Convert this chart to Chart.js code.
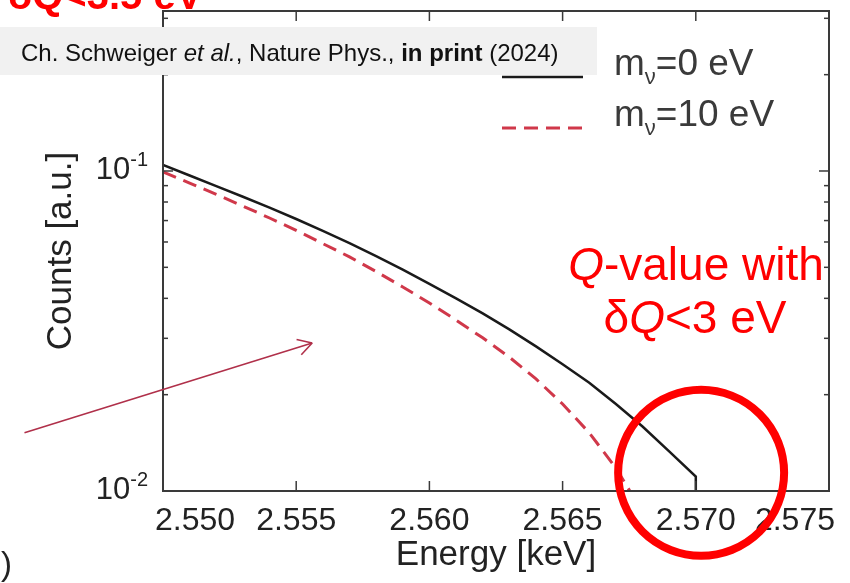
<!DOCTYPE html>
<html>
<head>
<meta charset="utf-8">
<script src="https://cdn.jsdelivr.net/npm/chart.js@4.4.1/dist/chart.umd.min.js"></script>
<style>
  html, body { margin: 0; padding: 0; background: #fff; }
  #wrap { width: 850px; height: 583px; }
</style>
</head>
<body>
<div id="wrap"><canvas id="spectrumChart" width="850" height="583"></canvas></div>
<script>
// values (energy in keV, counts in a.u.)
const energiesM0 = [2.550, 2.551, 2.552, 2.553, 2.554, 2.555, 2.556, 2.557, 2.558, 2.559, 2.560,
                    2.561, 2.562, 2.563, 2.564, 2.565, 2.566, 2.567, 2.568, 2.569, 2.570, 2.570];
const countsM0 = [0.1045, 0.0968, 0.0897, 0.0831, 0.0768, 0.0708, 0.0650, 0.0595, 0.0542, 0.0492, 0.0444,
                  0.0400, 0.0359, 0.0320, 0.0283, 0.0249, 0.0218, 0.0187, 0.0159, 0.0133, 0.0111, 0.0050];

const energiesM10 = [2.550, 2.551, 2.552, 2.553, 2.554, 2.555, 2.556, 2.557, 2.558, 2.559, 2.560,
                     2.561, 2.562, 2.563, 2.564, 2.565, 2.566, 2.567, 2.568];
const countsM10 = [0.0993, 0.0917, 0.0845, 0.0777, 0.0713, 0.0652, 0.0593, 0.0539, 0.0485, 0.0434, 0.0387,
                   0.0342, 0.0301, 0.0262, 0.0224, 0.0187, 0.0152, 0.0118, 0.0086];

const seriesLabels = ['m\u03BD=0 eV', 'm\u03BD=10 eV'];
const xTicks = [2.550, 2.555, 2.560, 2.565, 2.570, 2.575];
const xTickLabels = ['2.550', '2.555', '2.560', '2.565', '2.570', '2.575'];
const yDecades = [0.01, 0.1];
const yExponents = ['-2', '-1'];

const FONT = '"Liberation Sans", Arial, Helvetica, sans-serif';

function seg(ctx, x1, y1, x2, y2) {
  ctx.beginPath(); ctx.moveTo(x1, y1); ctx.lineTo(x2, y2); ctx.stroke();
}

// frame, inward ticks and tick labels (gnuplot style)
const framePlugin = {
  id: 'frame',
  afterDatasetsDraw(chart) {
    const { ctx, chartArea: a, scales: { x, y } } = chart;
    ctx.save();
    ctx.strokeStyle = '#3a3a3a';
    ctx.lineWidth = 2;
    ctx.strokeRect(a.left, a.top, a.right - a.left, a.bottom - a.top);

    ctx.lineWidth = 1.5;
    xTicks.forEach(v => {
      const px = x.getPixelForValue(v);
      if (px <= a.left + 1 || px >= a.right - 1) return;
      seg(ctx, px, a.bottom, px, a.bottom - 10);
      seg(ctx, px, a.top, px, a.top + 10);
    });
    y.ticks.forEach(t => {
      const v = t.value;
      if (v <= y.min * 1.0001 || v >= y.max * 0.9999) return;
      const m = v / Math.pow(10, Math.floor(Math.log10(v) + 1e-9));
      if (Math.abs(m - Math.round(m)) > 1e-6) return;
      const len = Math.round(m) === 1 ? 10 : 5;
      const py = y.getPixelForValue(v);
      seg(ctx, a.left, py, a.left + len, py);
      seg(ctx, a.right, py, a.right - len, py);
    });

    ctx.fillStyle = '#222';
    ctx.textBaseline = 'alphabetic';
    ctx.font = '32px ' + FONT;
    xTicks.forEach((v, i) => {
      let px = x.getPixelForValue(v);
      let align = 'center';
      if (i === 0) { align = 'left'; px -= 8; }
      else if (i === xTicks.length - 1) { align = 'right'; px += 6; }
      ctx.textAlign = align;
      ctx.fillText(xTickLabels[i], px, a.bottom + 39);
    });

    yDecades.forEach((v, i) => {
      const py = y.getPixelForValue(v) + 8;
      const right = a.left - 15;
      ctx.textAlign = 'right';
      ctx.font = '20px ' + FONT;
      ctx.fillText(yExponents[i], right, py - 13);
      const w = ctx.measureText(yExponents[i]).width;
      ctx.font = '31px ' + FONT;
      ctx.fillText('10', right - w, py);
    });
    ctx.restore();
  }
};

function runs(ctx, parts, x, y) {
  parts.forEach(p => {
    ctx.font = p[1];
    ctx.fillText(p[0], x, y + (p[2] || 0));
    x += ctx.measureText(p[0]).width;
  });
  return x;
}
function runsWidth(ctx, parts) {
  let w = 0;
  parts.forEach(p => { ctx.font = p[1]; w += ctx.measureText(p[0]).width; });
  return w;
}

// slide overlays: citation box, legend, red note, circle, arrow
const overlayPlugin = {
  id: 'overlay',
  afterDraw(chart) {
    const { ctx, scales: { x, y } } = chart;
    ctx.save();
    ctx.textAlign = 'left';
    ctx.textBaseline = 'alphabetic';

    // cut-off heading at the very top
    ctx.fillStyle = '#ff0000';
    ctx.font = 'bold 40px ' + FONT;
    ctx.fillText('\u03B4Q<3.5 eV', 8, 9);

    // citation box
    ctx.fillStyle = '#f1f1f1';
    ctx.fillRect(0, 27, 597, 48);
    ctx.fillStyle = '#111';
    const f = 24;
    runs(ctx, [
      ['Ch. Schweiger ', f + 'px ' + FONT],
      ['et al.', 'italic ' + f + 'px ' + FONT],
      [', Nature Phys., ', f + 'px ' + FONT],
      ['in print', 'bold ' + f + 'px ' + FONT],
      [' (2024)', f + 'px ' + FONT]
    ], 21, 61);

    // legend
    const rows = [77, 128];
    chart.data.datasets.forEach((ds, i) => {
      const ly = rows[i];
      ctx.strokeStyle = ds.borderColor;
      ctx.lineWidth = ds.borderWidth;
      ctx.setLineDash(ds.borderDash || []);
      seg(ctx, 502, ly, 583, ly);
      ctx.setLineDash([]);
      ctx.fillStyle = '#3a3a3a';
      const lab = ds.label;
      runs(ctx, [
        [lab[0], '37px ' + FONT],
        [lab[1], '22px ' + FONT, 9],
        [lab.slice(2), '37px ' + FONT]
      ], 614, ly - 2);
    });

    // red note
    ctx.fillStyle = '#ff0000';
    const nf = 46;
    const l1 = [['Q', 'italic ' + nf + 'px ' + FONT], ['-value with', nf + 'px ' + FONT]];
    const l2 = [['\u03B4', nf + 'px ' + FONT], ['Q', 'italic ' + nf + 'px ' + FONT], ['<3 eV', nf + 'px ' + FONT]];
    runs(ctx, l1, 696 - runsWidth(ctx, l1) / 2, 280);
    runs(ctx, l2, 695 - runsWidth(ctx, l2) / 2, 333);

    // stray bracket at the bottom left of the slide
    ctx.fillStyle = '#222';
    ctx.font = '33px ' + FONT;
    ctx.fillText(')', 1, 575);

    // arrow
    const ax0 = x.getPixelForValue(2.5448), ay0 = y.getPixelForValue(0.0152);
    const ax1 = x.getPixelForValue(2.5556), ay1 = y.getPixelForValue(0.0290);
    ctx.strokeStyle = '#b0304a';
    ctx.lineWidth = 1.6;
    seg(ctx, ax0, ay0, ax1, ay1);
    const ang = Math.atan2(ay0 - ay1, ax0 - ax1);
    [-0.52, 0.52].forEach(d => {
      seg(ctx, ax1, ay1, ax1 + 16 * Math.cos(ang + d), ay1 + 16 * Math.sin(ang + d));
    });

    // circle around the endpoint
    ctx.strokeStyle = '#ff0000';
    ctx.lineWidth = 8;
    ctx.beginPath();
    ctx.arc(x.getPixelForValue(2.5702), y.getPixelForValue(0.0114), 83, 0, Math.PI * 2);
    ctx.stroke();
    ctx.restore();
  }
};

const ctx = document.getElementById('spectrumChart');

new Chart(ctx, {
  type: 'line',
  data: {
    datasets: [
      {
        label: seriesLabels[0],
        data: energiesM0.map((e, i) => ({ x: e, y: countsM0[i] })),
        borderColor: '#1a1a1a',
        borderWidth: 2.5,
        pointRadius: 0,
        fill: false,
        clip: 0
      },
      {
        label: seriesLabels[1],
        data: energiesM10.map((e, i) => ({ x: e, y: countsM10[i] })),
        borderColor: '#d0384a',
        borderWidth: 3,
        borderDash: [14, 8],
        pointRadius: 0,
        fill: false,
        clip: 0
      }
    ]
  },
  options: {
    responsive: false,
    animation: false,
    devicePixelRatio: 1,
    layout: { padding: { left: 0, top: 11, right: 21, bottom: 0 } },
    plugins: { legend: { display: false }, tooltip: { enabled: false } },
    scales: {
      x: {
        type: 'linear',
        min: 2.550,
        max: 2.575,
        afterBuildTicks: s => { s.ticks = xTicks.map(v => ({ value: v })); },
        afterFit: s => { s.height = 92; },
        grid: { display: false },
        border: { display: false },
        ticks: { display: false },
        title: {
          display: true, text: 'Energy [keV]', color: '#222',
          font: { family: FONT, size: 35 }, padding: { top: 0, bottom: 7 }
        }
      },
      y: {
        type: 'logarithmic',
        min: 0.01,
        max: 0.3162,
        afterFit: s => { s.width = 163; },
        grid: { display: false },
        border: { display: false },
        ticks: { display: false },
        title: {
          display: true, text: 'Counts [a.u.]', color: '#222',
          font: { family: FONT, size: 35 }, padding: { top: 40, bottom: 0 }
        }
      }
    }
  },
  plugins: [framePlugin, overlayPlugin]
});
</script>
</body>
</html>
